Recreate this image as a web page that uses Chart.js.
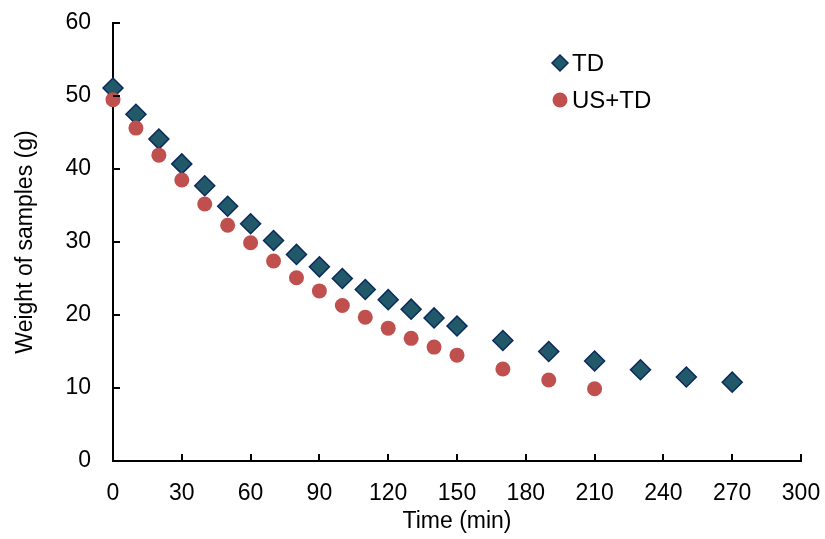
<!DOCTYPE html>
<html>
<head>
<meta charset="utf-8">
<script src="https://cdn.jsdelivr.net/npm/chart.js@4.4.0/dist/chart.umd.min.js"></script>
<style>
	html, body { margin: 0; padding: 0; background: #fff; }
	#wrap { width: 825px; height: 539px; }
</style>
</head>
<body>
<div id="wrap"><canvas id="weight-chart"></canvas></div>
<script>
"use strict";

const timeTD = [0, 10, 20, 30, 40, 50, 60, 70, 80, 90, 100, 110, 120, 130, 140, 150, 170, 190, 210, 230, 250, 270];
const weightTD = [51.1, 47.5, 44.1, 40.7, 37.7, 34.9, 32.5, 30.2, 28.3, 26.6, 25.0, 23.5, 22.1, 20.8, 19.6, 18.5, 16.5, 15.0, 13.7, 12.5, 11.5, 10.8];
const timeUSTD = [0, 10, 20, 30, 40, 50, 60, 70, 80, 90, 100, 110, 120, 130, 140, 150, 170, 190, 210];
const weightUSTD = [49.5, 45.6, 41.9, 38.5, 35.2, 32.3, 29.9, 27.4, 25.1, 23.3, 21.3, 19.7, 18.2, 16.8, 15.6, 14.5, 12.6, 11.1, 9.9];
const xTicks = [0, 30, 60, 90, 120, 150, 180, 210, 240, 270, 300];
const yTicks = [0, 10, 20, 30, 40, 50, 60];
const seriesNames = ['TD', 'US+TD'];

const FONT = "'Liberation Sans', Arial, sans-serif";

function toPoints(xs, ys) {
	return xs.map((x, i) => ({ x: x, y: ys[i] }));
}

// ticks point inward, like the original
const innerTicks = {
	id: 'innerTicks',
	afterDraw(chart) {
		const ctx = chart.ctx;
		const xs = chart.scales.x;
		const ys = chart.scales.y;
		const area = chart.chartArea;
		ctx.save();
		ctx.strokeStyle = '#000';
		ctx.lineWidth = 2;
		ctx.beginPath();
		for (const v of xTicks) {
			if (v === 0) continue;
			const px = Math.round(xs.getPixelForValue(v));
			ctx.moveTo(px, area.bottom);
			ctx.lineTo(px, area.bottom - 7);
		}
		for (const v of yTicks) {
			if (v === 0) continue;
			const py = Math.round(ys.getPixelForValue(v));
			ctx.moveTo(area.left, py);
			ctx.lineTo(area.left + 7, py);
		}
		ctx.stroke();
		ctx.restore();
	}
};

const innerLegend = {
	id: 'innerLegend',
	afterDraw(chart) {
		const ctx = chart.ctx;
		ctx.save();
		ctx.font = '24px ' + FONT;
		ctx.textBaseline = 'middle';
		const rows = [
			{ y: 63, style: 'rectRot', r: 8, fill: '#215968', border: '#0B2A5E', bw: 1.5 },
			{ y: 100, style: 'circle', r: 7.5, fill: '#C0504D', border: '#C0504D', bw: 0 }
		];
		rows.forEach((row, i) => {
			ctx.fillStyle = row.fill;
			ctx.strokeStyle = row.border;
			ctx.lineWidth = row.bw;
			Chart.helpers.drawPoint(ctx, { pointStyle: row.style, radius: row.r, borderWidth: row.bw, rotation: 0 }, 560, row.y);
			ctx.fillStyle = '#000';
			ctx.fillText(seriesNames[i], 572, row.y + 1);
		});
		ctx.restore();
	}
};

function drawChart() {
	const ctx = document.querySelector('#weight-chart').getContext('2d');
	new Chart(ctx, {
		type: 'scatter',
		data: {
			datasets: [{
				label: seriesNames[0],
				data: toPoints(timeTD, weightTD),
				pointStyle: 'rectRot',
				pointRadius: 10,
				backgroundColor: '#215968',
				borderColor: '#0B2A5E',
				borderWidth: 1.5,
				clip: false,
				order: 2
			}, {
				label: seriesNames[1],
				data: toPoints(timeUSTD, weightUSTD),
				pointStyle: 'circle',
				pointRadius: 7.5,
				backgroundColor: '#C0504D',
				borderColor: '#C0504D',
				borderWidth: 0,
				clip: false,
				order: 1
			}]
		},
		options: {
			responsive: true,
			maintainAspectRatio: false,
			animation: false,
			events: [],
			layout: { padding: { top: 23, right: 24, left: 0, bottom: 0 } },
			plugins: {
				legend: { display: false },
				tooltip: { enabled: false }
			},
			scales: {
				x: {
					type: 'linear',
					min: 0,
					max: 300,
					afterBuildTicks: (scale) => { scale.ticks = xTicks.map(v => ({ value: v })); },
					afterFit: (scale) => {
						scale.height = 78;
						scale.paddingLeft = 0;
						scale.paddingRight = 0;
					},
					grid: { display: false, drawTicks: false },
					border: { display: true, color: '#000', width: 2 },
					ticks: { color: '#000', padding: 19, maxRotation: 0, font: { family: FONT, size: 23 } },
					title: { display: true, text: 'Time (min)', color: '#000', padding: { top: 11 }, font: { family: FONT, size: 23 } }
				},
				y: {
					type: 'linear',
					min: 0,
					max: 60,
					afterBuildTicks: (scale) => { scale.ticks = yTicks.map(v => ({ value: v })); },
					afterFit: (scale) => {
						scale.width = 113;
						scale.paddingTop = 0;
						scale.paddingBottom = 0;
					},
					grid: { display: false, drawTicks: false },
					border: { display: true, color: '#000', width: 2 },
					ticks: { color: '#000', padding: 22, font: { family: FONT, size: 23 } },
					title: { display: true, text: 'Weight of samples (g)', color: '#000', padding: { top: 12, bottom: 0 }, font: { family: FONT, size: 23 } }
				}
			}
		},
		plugins: [innerTicks, innerLegend]
	});
}

drawChart();
</script>
</body>
</html>
